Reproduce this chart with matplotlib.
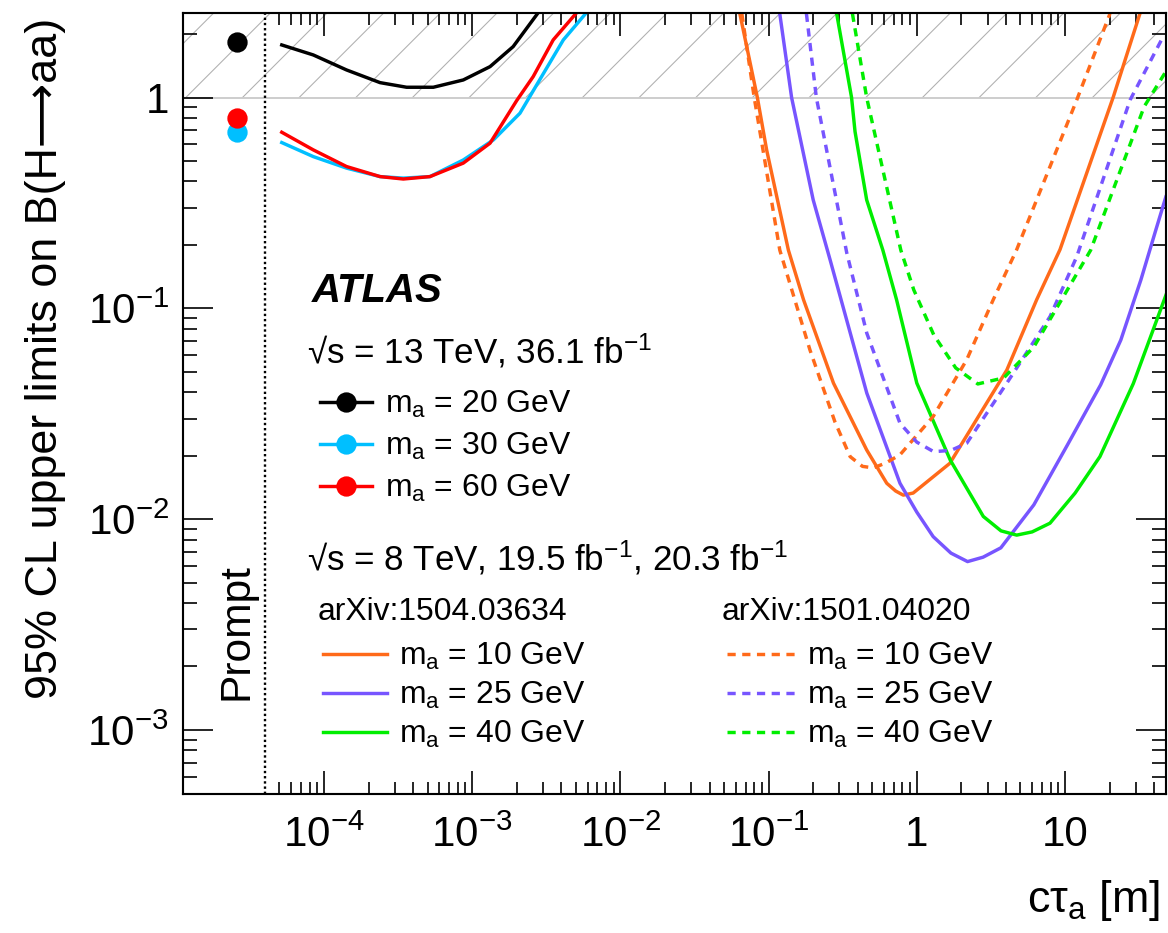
import numpy as np
import matplotlib
matplotlib.use("Agg")
import matplotlib.pyplot as plt
from matplotlib.lines import Line2D
from matplotlib.ticker import FixedLocator, FuncFormatter, NullFormatter

plt.rcParams['font.family'] = ['Liberation Sans', 'DejaVu Sans']
plt.rcParams['mathtext.fontset'] = 'custom'
plt.rcParams['mathtext.rm'] = 'Liberation Sans'
plt.rcParams['mathtext.it'] = 'Liberation Sans:italic'
plt.rcParams['mathtext.bf'] = 'Liberation Sans:bold'
plt.rcParams['mathtext.default'] = 'regular'
plt.rcParams['hatch.linewidth'] = 0.45

# --- 13 TeV results (this analysis) ---
prompt_x = 2.6e-5
prompt_m20 = 1.84
prompt_m30 = 0.69
prompt_m60 = 0.80

x_m20 = [5.19e-5, 8.47e-5, 1.42e-4, 2.39e-4, 3.61e-4, 5.47e-4, 8.71e-4, 1.32e-3, 1.89e-3, 2.79e-3]
y_m20 = [1.778, 1.594, 1.353, 1.178, 1.120, 1.120, 1.213, 1.403, 1.746, 2.53]

x_m30 = [5.19e-5, 8.47e-5, 1.42e-4, 2.39e-4, 3.43e-4, 5.19e-4, 8.71e-4, 1.39e-3, 2.1e-3, 2.94e-3, 4.12e-3, 5.9e-3]
y_m30 = [0.612, 0.525, 0.463, 0.422, 0.415, 0.422, 0.506, 0.63, 0.843, 1.258, 1.878, 2.53]

x_m60 = [5.19e-5, 8.47e-5, 1.42e-4, 2.39e-4, 3.43e-4, 5.19e-4, 8.71e-4, 1.32e-3, 2.0e-3, 2.58e-3, 3.52e-3, 5.07e-3]
y_m60 = [0.685, 0.565, 0.471, 0.422, 0.411, 0.422, 0.489, 0.608, 0.97, 1.258, 1.878, 2.53]

# --- 8 TeV, arXiv:1504.03634 (solid) ---
x_a10 = [0.064, 0.084, 0.097, 0.136, 0.172, 0.274, 0.459, 0.627, 0.72, 0.81, 0.945, 1.67, 4.05, 6.44, 9.25, 21.2, 32]
y_a10 = [2.5, 1.0, 0.565, 0.189, 0.11, 0.0442, 0.0213, 0.0148, 0.0136, 0.0130, 0.0133, 0.0184, 0.051, 0.11, 0.19, 1.01, 2.5]

x_a25 = [0.119, 0.143, 0.2, 0.26, 0.46, 0.77, 1.0, 1.29, 1.7, 2.2, 2.8, 3.69, 6.16, 10.4, 17.4, 23.8, 32.5, 41.0, 47.9]
y_a25 = [2.5, 1.0, 0.327, 0.17, 0.0396, 0.0148, 0.0108, 0.00826, 0.0069, 0.00629, 0.0066, 0.00731,
         0.01169, 0.02254, 0.04339, 0.0708, 0.1365, 0.2356, 0.338]

x_a40 = [0.288, 0.363, 0.383, 0.459, 0.59, 0.73, 1.0, 1.68, 2.81, 3.7, 4.72, 6.0, 7.92, 11.7, 17.2, 28.9, 48.5]
y_a40 = [2.5, 1.0, 0.69, 0.327, 0.189, 0.11, 0.0442, 0.0191, 0.0103, 0.0088, 0.0084, 0.0087, 0.00957,
         0.0133, 0.0198, 0.044, 0.118]

# --- 8 TeV, arXiv:1501.04020 (dotted) ---
x_b10 = [0.066, 0.080, 0.119, 0.19, 0.28, 0.355, 0.43, 0.51, 0.62, 0.77, 1.29, 2.17, 3.28, 4.72, 12, 20.1]
y_b10 = [2.5, 1.0, 0.189, 0.0636, 0.029, 0.0198, 0.0178, 0.0175, 0.0185, 0.0202, 0.0307, 0.057, 0.11, 0.19, 0.975, 2.5]

x_b25 = [0.18, 0.21, 0.337, 0.46, 0.77, 1.0, 1.3, 1.7, 2.17, 4.05, 7.92, 12, 27.5, 46]
y_b25 = [2.5, 1.0, 0.183, 0.0762, 0.0285, 0.0232, 0.0209, 0.0212, 0.0229, 0.0442, 0.0914, 0.176, 0.975, 1.95]

x_b40 = [0.368, 0.459, 0.78, 0.954, 1.302, 1.83, 2.58, 3.86, 6.16, 14.9, 34.2, 47.9]
y_b40 = [2.5, 1.0, 0.189, 0.1224, 0.0748, 0.0522, 0.0438, 0.0468, 0.0656, 0.189, 0.906, 1.33]

c_black = 'black'
c_cyan = '#00bfff'
c_red = '#ff0000'
c_orange = '#ff6a1a'
c_purple = '#7755ff'
c_green = '#00ee00'

DPI = 170
fig = plt.figure(figsize=(1168 / DPI, 933 / DPI), dpi=DPI)
ax = fig.add_axes([0.1567, 0.149, 0.8416, 0.8374])
ax.set_xscale('log')
ax.set_yscale('log')
ax.set_xlim(10 ** -4.951, 10 ** 1.6815)
ax.set_ylim(10 ** -3.304, 10 ** 0.403)

# excluded region B > 1
ax.axhspan(1, 10, facecolor='none', edgecolor='#b0b0b0', hatch='/', linewidth=0, zorder=0)
ax.axhline(1, color='#cccccc', lw=0.8, zorder=0)

# prompt separator
ax.axvline(4e-5, color='black', lw=1.0, linestyle=(0, (1, 1.2)))
ax.text(0.054, 0.12, 'Prompt', rotation=90, ha='center', va='bottom',
        fontsize=18, transform=ax.transAxes)

lw = 1.45
ax.plot(x_m20, y_m20, color=c_black, lw=lw)
ax.plot(x_m30, y_m30, color=c_cyan, lw=lw)
ax.plot(x_m60, y_m60, color=c_red, lw=lw)
ax.plot([prompt_x], [prompt_m20], 'o', color=c_black, ms=7.6)
ax.plot([prompt_x], [prompt_m30], 'o', color=c_cyan, ms=7.6)
ax.plot([prompt_x], [prompt_m60], 'o', color=c_red, ms=7.6)

dot = (0, (2.4, 1.9))
la10, = ax.plot(x_a10, y_a10, color=c_orange, lw=lw, label='m$_{a}$ = 10 GeV')
la25, = ax.plot(x_a25, y_a25, color=c_purple, lw=lw, label='m$_{a}$ = 25 GeV')
la40, = ax.plot(x_a40, y_a40, color=c_green, lw=lw, label='m$_{a}$ = 40 GeV')
lb10, = ax.plot(x_b10, y_b10, color=c_orange, lw=lw, ls=dot, label='m$_{a}$ = 10 GeV')
lb25, = ax.plot(x_b25, y_b25, color=c_purple, lw=lw, ls=dot, label='m$_{a}$ = 25 GeV')
lb40, = ax.plot(x_b40, y_b40, color=c_green, lw=lw, ls=dot, label='m$_{a}$ = 40 GeV')

# axes, ticks
def fmt(v, pos):
    if abs(v - 1) < 1e-9:
        return '1'
    if abs(v - 10) < 1e-9:
        return '10'
    return '$10^{%d}$' % int(round(np.log10(v)))

ax.xaxis.set_major_locator(FixedLocator([1e-4, 1e-3, 1e-2, 1e-1, 1, 10]))
ax.xaxis.set_minor_locator(FixedLocator(
    [m * 10.0 ** e for e in range(-5, 2) for m in range(2, 10) if 4.5e-5 < m * 10.0 ** e < 48]))
ax.yaxis.set_major_locator(FixedLocator([1e-3, 1e-2, 1e-1, 1]))
ax.yaxis.set_minor_locator(FixedLocator(
    [m * 10.0 ** e for e in range(-4, 1) for m in range(2, 10) if 5e-4 < m * 10.0 ** e < 2.5]))
ax.xaxis.set_major_formatter(FuncFormatter(fmt))
ax.yaxis.set_major_formatter(FuncFormatter(fmt))
ax.xaxis.set_minor_formatter(NullFormatter())
ax.yaxis.set_minor_formatter(NullFormatter())

ax.tick_params(which='both', direction='in', top=True, right=True, width=0.7, labelsize=17.8)
ax.tick_params(axis='x', which='major', length=9.7, pad=9)
ax.tick_params(axis='x', which='minor', length=5)
ax.tick_params(axis='y', which='major', length=12.7, pad=6)
ax.tick_params(axis='y', which='minor', length=5.8)
for s in ax.spines.values():
    s.set_linewidth(0.9)

ax.set_ylabel('95% CL upper limits on B(H⟶aa)', fontsize=19, loc='top')
ax.yaxis.set_label_coords(-0.119, 0.993)
ax.set_xlabel('cτ$_{a}$ [m]', fontsize=19, loc='right')
ax.xaxis.set_label_coords(0.994, -0.108)

# labels and legends
ax.text(0.1309, 0.6301, 'ATLAS', fontsize=17, fontweight='bold', fontstyle='italic',
        transform=ax.transAxes, va='baseline')
ax.text(0.1258, 0.5513, '√s = 13 TeV, 36.1 fb$^{-1}$', fontsize=14.8,
        transform=ax.transAxes, va='baseline')
ax.text(0.1258, 0.2867, '√s = 8 TeV, 19.5 fb$^{-1}$, 20.3 fb$^{-1}$', fontsize=14.8,
        transform=ax.transAxes, va='baseline')
ax.text(0.1373, 0.2230, 'arXiv:1504.03634', fontsize=13.5, transform=ax.transAxes, va='baseline')
ax.text(0.548, 0.2230, 'arXiv:1501.04020', fontsize=13.5, transform=ax.transAxes, va='baseline')

h13 = [Line2D([], [], color=c, lw=lw, marker='o', ms=7.6) for c in (c_black, c_cyan, c_red)]
leg1 = ax.legend(h13, ['m$_{a}$ = 20 GeV', 'm$_{a}$ = 30 GeV', 'm$_{a}$ = 60 GeV'],
                 loc='upper left', bbox_to_anchor=(0.1394, 0.5185), frameon=False,
                 fontsize=13.5, handlelength=1.63, handletextpad=0.4, labelspacing=0.34,
                 borderpad=0, borderaxespad=0)
ax.add_artist(leg1)
leg2 = ax.legend([la10, la25, la40], [la10.get_label(), la25.get_label(), la40.get_label()],
                 loc='upper left', bbox_to_anchor=(0.1424, 0.196), frameon=False,
                 fontsize=13.5, handlelength=2.0, handletextpad=0.375, labelspacing=0.245,
                 borderpad=0, borderaxespad=0)
ax.add_artist(leg2)
ax.legend([lb10, lb25, lb40], [lb10.get_label(), lb25.get_label(), lb40.get_label()],
          loc='upper left', bbox_to_anchor=(0.5534, 0.196), frameon=False,
          fontsize=13.5, handlelength=2.2, handletextpad=0.31, labelspacing=0.245,
          borderpad=0, borderaxespad=0)

fig.savefig('out.png', dpi=DPI)
